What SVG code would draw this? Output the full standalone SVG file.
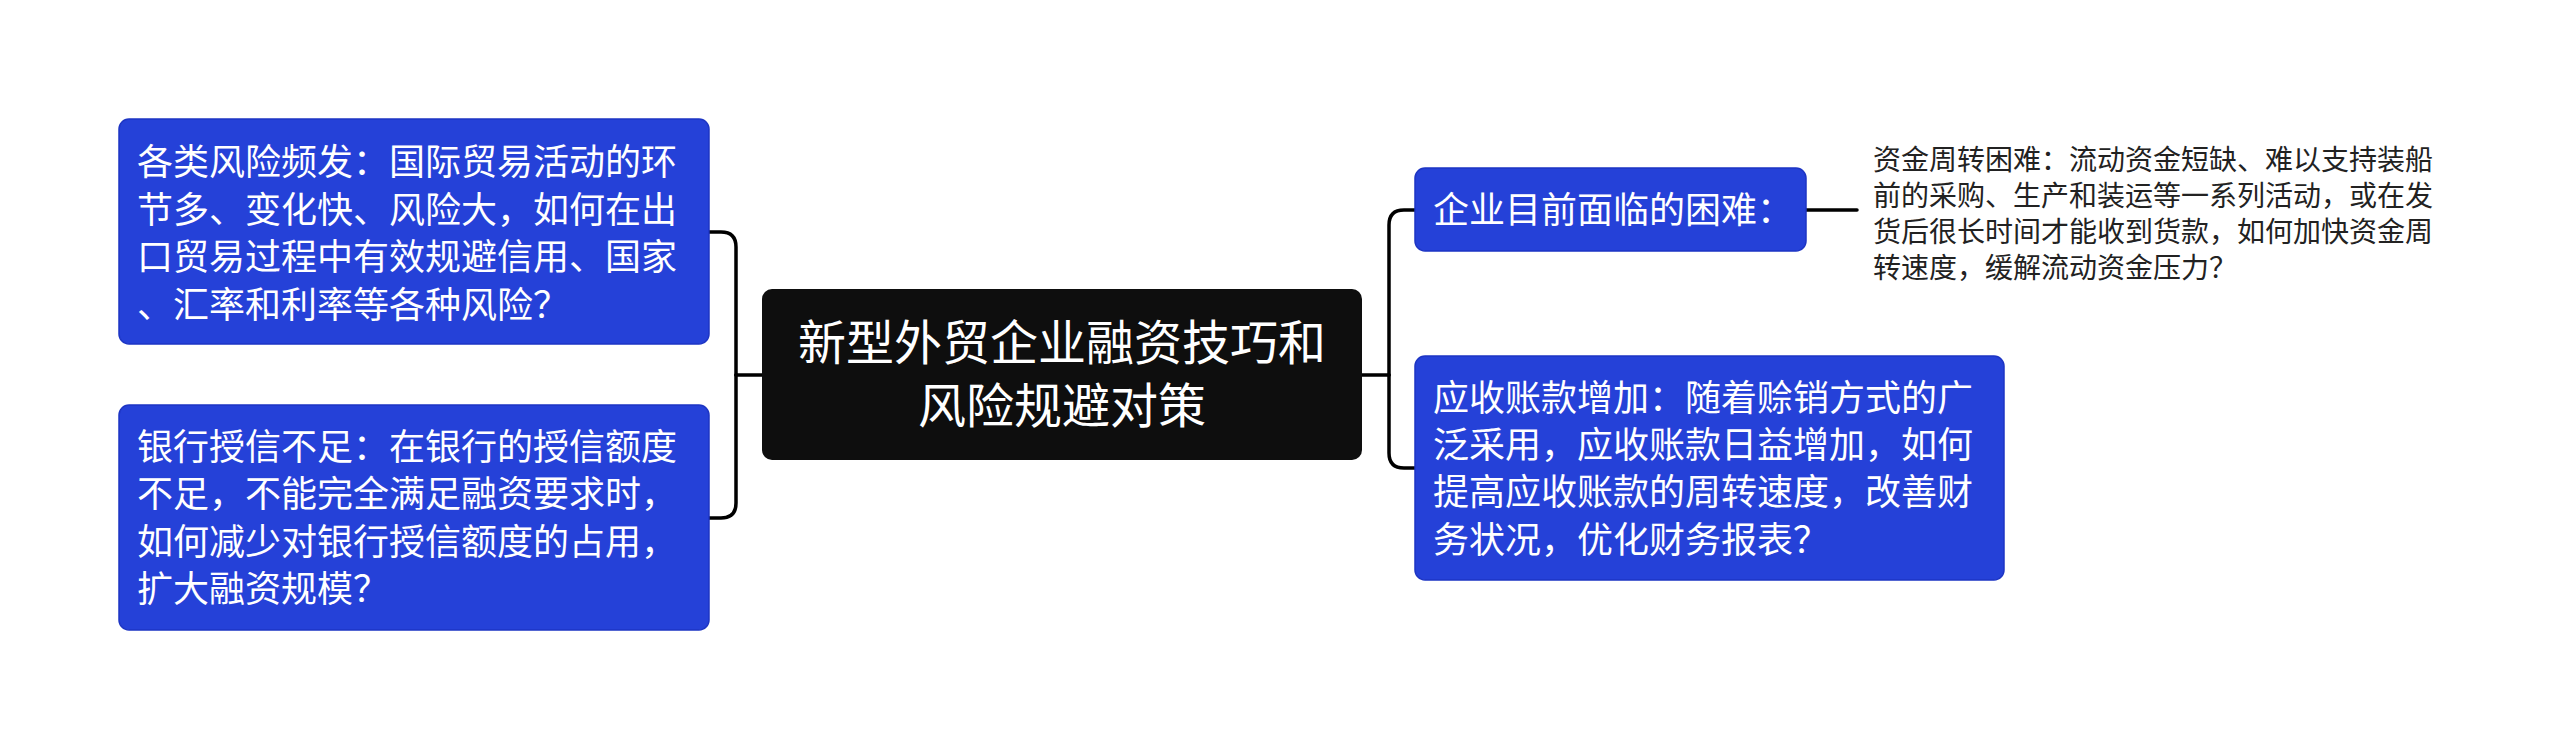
<svg xmlns="http://www.w3.org/2000/svg" width="2560" height="749" viewBox="0 0 2560 749">
<style>
.bg{fill:#ffffff}
.blue{fill:#2541d8;stroke:#1d35c4;stroke-width:1.5}
.root{fill:#0e0e0e}
.t{font-family:"Noto Sans CJK SC","Noto Sans",sans-serif;fill:#ffffff}
.s{font-family:"Noto Sans CJK SC","Noto Sans",sans-serif;fill:#222222;font-size:28px}
.m{font-size:36px}
.c{font-size:48px;text-anchor:middle}
.ln{fill:none;stroke:#000000;stroke-width:3.5;stroke-linecap:round;stroke-linejoin:round}
</style>
<rect class="bg" x="0" y="0" width="2560" height="749"/>
<g id="connectors">
<path class="ln" d="M762 375 H736"/>
<path class="ln" d="M736 375 V247 Q736 232 721 232 H709"/>
<path class="ln" d="M736 375 V503 Q736 518 721 518 H709"/>
<path class="ln" d="M1362 375 H1389"/>
<path class="ln" d="M1389 375 V225 Q1389 210 1404 210 H1415"/>
<path class="ln" d="M1389 375 V453 Q1389 468 1404 468 H1415"/>
<path class="ln" d="M1806 210 H1857"/>
</g>
<g id="root">
<rect class="root" x="762" y="289" width="600" height="171" rx="10"/>
<text class="t c"><tspan x="1062" y="359.5">新型外贸企业融资技巧和</tspan><tspan x="1062" y="422.5">风险规避对策</tspan></text>
</g>
<g id="node-risk">
<rect class="blue" x="119" y="119" width="590" height="225" rx="10"/>
<text class="t m"><tspan x="137" y="175">各类风险频发：国际贸易活动的环</tspan><tspan x="137" y="222.5">节多、变化快、风险大，如何在出</tspan><tspan x="137" y="270">口贸易过程中有效规避信用、国家</tspan><tspan x="137" y="317.5">、汇率和利率等各种风险？</tspan></text>
</g>
<g id="node-credit">
<rect class="blue" x="119" y="405" width="590" height="225" rx="10"/>
<text class="t m"><tspan x="137" y="459.5">银行授信不足：在银行的授信额度</tspan><tspan x="137" y="507">不足，不能完全满足融资要求时，</tspan><tspan x="137" y="554.5">如何减少对银行授信额度的占用，</tspan><tspan x="137" y="602">扩大融资规模？</tspan></text>
</g>
<g id="node-difficulty">
<rect class="blue" x="1415" y="168" width="391" height="83" rx="10"/>
<text class="t m" x="1433" y="223">企业目前面临的困难：</text>
</g>
<g id="node-capital">
<text class="s"><tspan x="1873" y="169.6">资金周转困难：流动资金短缺、难以支持装船</tspan><tspan x="1873" y="205.6">前的采购、生产和装运等一系列活动，或在发</tspan><tspan x="1873" y="241.6">货后很长时间才能收到货款，如何加快资金周</tspan><tspan x="1873" y="277.6">转速度，缓解流动资金压力？</tspan></text>
</g>
<g id="node-receivable">
<rect class="blue" x="1415" y="356" width="589" height="224" rx="10"/>
<text class="t m"><tspan x="1433" y="410.7">应收账款增加：随着赊销方式的广</tspan><tspan x="1433" y="458">泛采用，应收账款日益增加，如何</tspan><tspan x="1433" y="505.3">提高应收账款的周转速度，改善财</tspan><tspan x="1433" y="552.7">务状况，优化财务报表？</tspan></text>
</g>
</svg>
